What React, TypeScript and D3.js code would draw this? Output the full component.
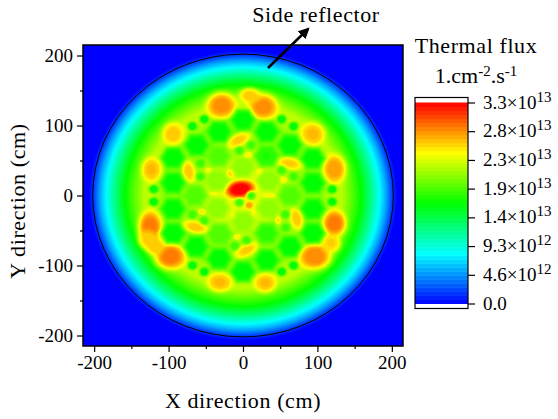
import React, { useEffect, useRef } from 'react';
import * as d3 from 'd3';

// everything in cm, flux in units of 1e13
const radialR = [0, 30, 58, 75, 108, 124, 134, 145, 160, 172, 183, 192, 200, 207, 215, 320];
const radialFlux = [2.45, 2.4, 2.25, 2.15, 2.15, 2.32, 2.25, 2.0, 1.64, 1.26, 0.88, 0.58, 0.25, 0.03, 0, 0];

const outerHex = [
  [0, 108], [32, 91], [63, 72], [94, 53], [94, 18], [94, -19], [94, -54], [63, -73], [32, -92],
  [0, -109], [-32, -90], [-63, -73], [-94, -54], [-94, -19], [-94, 18], [-94, 54], [-62, 72], [-32, 91],
];
const middleHex = [
  [-33, 56, 1.95], [32, 56, 1.78], [63, 0, 1.95], [32, -54, 1.82], [-31, -55, 1.92], [-64, 0, 1.95],
];
const innerHex = [[0, 40], [-34, 21], [-34, -18], [0, -37], [34, -18], [34, 21]];
const outerRods = [
  [-52, 109], [-68, 99], [52, 109], [68, 99], [-120, 9], [-120, -9], [120, 9], [120, -9],
  [-68, -100], [-52, -109], [52, -109], [68, -100],
];
const innerRods = [
  [-5, 64], [11, 72], [52, 36], [68, 27], [57, -27], [57, -46], [5, -64], [-11, -72],
  [-52, -36], [-68, -27], [-57, 46], [-57, 27], [-5, -10], [11, 0],
];
// x, y, rx, ry, angle, flux
const hotSpots = [
  [-29, 129, 20, 19, 0, 2.88], [27, 127, 20, 19, 0, 2.88], [9, 143, 15, 11, 0, 2.68],
  [-94, 88, 15, 17, 0, 2.68], [94, 88, 17, 17, 0, 2.72], [-123, 37, 14, 18, 0, 2.72],
  [123, 38, 16, 21, 0, 2.82], [-125, -45, 16, 23, 0, 2.95], [123, -40, 16, 19, 0, 2.95],
  [-98, -87, 21, 19, 0, 2.95], [97, -87, 22, 19, 0, 2.9], [-128, -63, 13, 14, 0, 2.65],
  [119, -68, 13, 14, 0, 2.65], [-118, -73, 13, 13, 0, 2.68], [-31, -124, 17, 14, 0, 2.72],
  [30, -125, 15, 14, 0, 2.72], [-4, 9, 19, 12, 10, 3.4],
  [-6, 79, 18, 9, 30, 2.66], [63, 46, 18, 9, -15, 2.66], [72, -33, 9, 17, 10, 2.68],
  [5, -78, 18, 9, 30, 2.66], [-64, -45, 18, 9, -15, 2.68], [-73, 34, 9, 17, 10, 2.68],
  [8.5, -14, 6, 6, 0, 2.8], [-17, 31, 5, 6, 0, 2.65], [23, 34, 5, 5, 0, 2.6], [36, 0, 9, 3, 0, 2.6],
  [-40, 3, 7, 3, 0, 2.55], [14, -23, 3, 7, 0, 2.55], [-13, -30, 3, 6, 0, 2.55], [7, 57, 6, 5, 0, 2.6],
  [54, 22, 5, 5, 0, 2.6], [47, -35, 4, 6, 0, 2.6], [-55, -23, 5, 4, 0, 2.6], [-8, -59, 5, 4, 0, 2.55],
  [-46, 36, 5, 4, 0, 2.55],
];

const majorTicks = [-200, -100, 0, 100, 200];
const minorTicks = [-150, -50, 50, 150];
const colorStops = [0, 0.825, 1.65, 2.475, 3.3];
const colorNames = ['#0000ff', '#00ffff', '#00ff00', '#ffff00', '#ff0000'];
const barTicks = [0, 0.471, 0.943, 1.414, 1.886, 2.357, 2.829, 3.3];
const barMantissa = ['0.0', '4.6', '9.3', '1.4', '1.9', '2.3', '2.8', '3.3'];
const barExponent = ['', '12', '12', '13', '13', '13', '13', '13'];

const FONT = '"Liberation Serif", serif';

export default function App() {
  const ref = useRef<SVGSVGElement>(null);

  useEffect(() => {
    const svg = d3.select(ref.current);
    svg.selectAll('*').remove();

    const x = d3.scaleLinear().domain([-215, 215]).range([83, 403]);
    const y = d3.scaleLinear().domain([-215, 215]).range([346, 45]);
    const color = d3.scaleLinear<string>().domain(colorStops).range(colorNames).clamp(true);
    const radial = d3.scaleLinear().domain(radialR).range(radialFlux);

    function flux(px: number, py: number) {
      let v = radial(Math.hypot(px, py));
      const blend = (w: number, target: number) => {
        v += w * (target - v);
      };
      hotSpots.forEach(([cx, cy, rx, ry, a, f]) => {
        const t = (a * Math.PI) / 180;
        const dx = px - cx;
        const dy = py - cy;
        const u = (dx * Math.cos(t) + dy * Math.sin(t)) / rx;
        const w = (-dx * Math.sin(t) + dy * Math.cos(t)) / ry;
        blend(Math.exp(-Math.pow(u * u + w * w, 2)), f);
      });
      const hex = (cx: number, cy: number, f: number, size: number) => {
        const dx = Math.abs(px - cx);
        const dy = Math.abs(py - cy);
        const d = Math.max(dy, dx * 0.866 + dy * 0.5) / size;
        blend(Math.exp(-Math.pow(d, 5)), f);
      };
      outerHex.forEach(([a, b]) => hex(a, b, 1.66, 15.5));
      middleHex.forEach(([a, b, f]) => hex(a, b, f, 15.5));
      innerHex.forEach(([a, b]) => hex(a, b, 2.14, 15));
      const rod = (cx: number, cy: number, f: number) => {
        const d = Math.hypot(px - cx, py - cy) / 6.5;
        blend(Math.exp(-Math.pow(d, 4)), f);
      };
      outerRods.forEach(([a, b]) => rod(a, b, 1.62));
      innerRods.forEach(([a, b]) => rod(a, b, 1.88));
      return v;
    }

    // sample the field on a 1.5 cm grid and contour it
    const step = 1.5;
    const n = Math.round(430 / step) + 1;
    const values = new Float64Array(n * n);
    for (let j = 0; j < n; j++) {
      for (let i = 0; i < n; i++) {
        values[j * n + i] = flux(-215 + i * step, -215 + j * step);
      }
    }
    const levels = d3.range(0, 51).map(i => (i * 3.3) / 50);
    const contours = d3.contours().size([n, n]).thresholds(levels.slice(1))(values as any);
    const path = d3.geoPath(
      d3.geoTransform({
        point(a, b) {
          this.stream.point(x(-215 + (a - 0.5) * step), y(-215 + (b - 0.5) * step));
        },
      }),
    );

    svg
      .append('clipPath')
      .attr('id', 'plot-clip')
      .append('rect')
      .attr('x', x(-215))
      .attr('y', y(215))
      .attr('width', x(215) - x(-215))
      .attr('height', y(-215) - y(215));

    const plot = svg.append('g').attr('clip-path', 'url(#plot-clip)');
    plot
      .append('rect')
      .attr('x', x(-215))
      .attr('y', y(215))
      .attr('width', x(215) - x(-215))
      .attr('height', y(-215) - y(215))
      .attr('fill', color(0));
    plot
      .selectAll('path')
      .data(contours)
      .enter()
      .append('path')
      .attr('d', d => path(d as any))
      .attr('fill', d => color(d.value));

    // reactor boundary
    plot
      .append('ellipse')
      .attr('cx', x(0))
      .attr('cy', y(0))
      .attr('rx', x(202) - x(0))
      .attr('ry', y(0) - y(202))
      .attr('fill', 'none')
      .attr('stroke', '#000')
      .attr('stroke-width', 1);

    svg
      .append('rect')
      .attr('x', x(-215))
      .attr('y', y(215))
      .attr('width', x(215) - x(-215))
      .attr('height', y(-215) - y(215))
      .attr('fill', 'none')
      .attr('stroke', '#000')
      .attr('stroke-width', 1.5);

    // axes, plain hyphen for negatives as in the original
    const tickText = (d: any) => String(d);
    const xAxis = svg.append('g').attr('transform', `translate(0, ${y(-215)})`);
    xAxis.call(d3.axisBottom(x).tickValues(majorTicks).tickSize(6).tickPadding(4).tickFormat(tickText));
    const xMinor = svg.append('g').attr('transform', `translate(0, ${y(-215)})`);
    xMinor.call(d3.axisBottom(x).tickValues(minorTicks).tickSize(3).tickFormat(() => ''));
    const yAxis = svg.append('g').attr('transform', `translate(${x(-215)}, 0)`);
    yAxis.call(d3.axisLeft(y).tickValues(majorTicks).tickSize(6).tickPadding(4).tickFormat(tickText));
    const yMinor = svg.append('g').attr('transform', `translate(${x(-215)}, 0)`);
    yMinor.call(d3.axisLeft(y).tickValues(minorTicks).tickSize(3).tickFormat(() => ''));
    [xAxis, xMinor, yAxis, yMinor].forEach(g => {
      g.select('.domain').remove();
      g.selectAll('line').attr('stroke-width', 1.2);
      g.selectAll('text').style('font-family', FONT).style('font-size', '19px').attr('fill', '#000');
    });

    const label = (text: string, px: number, py: number) =>
      svg
        .append('text')
        .attr('x', px)
        .attr('y', py)
        .attr('text-anchor', 'middle')
        .style('font-family', FONT)
        .style('font-size', '22px')
        .style('letter-spacing', '0.6px')
        .text(text);

    label('X direction (cm)', 243, 408);
    svg
      .append('text')
      .attr('transform', `translate(25, 201) rotate(-90)`)
      .attr('text-anchor', 'middle')
      .style('font-family', FONT)
      .style('font-size', '22px')
      .style('letter-spacing', '0.6px')
      .text('Y direction (cm)');
    label('Side reflector', 316, 22);
    label('Thermal flux', 476, 53);

    const unit = svg
      .append('text')
      .attr('x', 476)
      .attr('y', 83)
      .attr('text-anchor', 'middle')
      .style('font-family', FONT)
      .style('font-size', '22px');
    unit.append('tspan').text('1.cm');
    unit.append('tspan').attr('dy', -7).style('font-size', '15px').text('-2');
    unit.append('tspan').attr('dy', 7).text('.s');
    unit.append('tspan').attr('dy', -7).style('font-size', '15px').text('-1');

    // arrow
    svg
      .append('marker')
      .attr('id', 'arrow-head')
      .attr('viewBox', '0 0 10 10')
      .attr('refX', 8)
      .attr('refY', 5)
      .attr('markerWidth', 4.5)
      .attr('markerHeight', 4.5)
      .attr('orient', 'auto')
      .append('path')
      .attr('d', 'M0,0L10,5L0,10Z')
      .attr('fill', '#000');
    svg
      .append('line')
      .attr('x1', 268)
      .attr('y1', 68)
      .attr('x2', 308)
      .attr('y2', 29)
      .attr('stroke', '#000')
      .attr('stroke-width', 2.5)
      .attr('marker-end', 'url(#arrow-head)');

    // color bar
    const bar = d3.scaleLinear().domain([0, 3.3]).range([303.5, 102.5]);
    const barLeft = 415;
    const barRight = 468;
    svg
      .append('g')
      .selectAll('rect')
      .data(levels.slice(0, -1))
      .enter()
      .append('rect')
      .attr('x', barLeft)
      .attr('width', barRight - barLeft)
      .attr('y', d => bar(d + 3.3 / 50))
      .attr('height', d => bar(d) - bar(d + 3.3 / 50) + 0.5)
      .attr('fill', d => color(d + 3.3 / 100));
    svg
      .append('rect')
      .attr('x', barLeft)
      .attr('y', 97.5)
      .attr('width', barRight - barLeft)
      .attr('height', 211)
      .attr('fill', 'none')
      .attr('stroke', '#000')
      .attr('stroke-width', 1.2);
    const barAxis = svg.append('g').attr('transform', `translate(${barRight}, 0)`);
    barAxis.call(d3.axisRight(bar).tickValues(barTicks).tickSize(7).tickFormat(() => ''));
    barAxis.select('.domain').remove();
    barAxis.selectAll('line').attr('stroke-width', 1.2);

    barTicks.forEach((t, i) => {
      const text = svg
        .append('text')
        .attr('x', 483)
        .attr('y', bar(t) + 6)
        .style('font-family', FONT)
        .style('font-size', '19px');
      if (barExponent[i]) {
        text.append('tspan').text(`${barMantissa[i]}×10`);
        text.append('tspan').attr('dy', -7).style('font-size', '15px').text(barExponent[i]);
      } else {
        text.text(barMantissa[i]);
      }
    });
  }, []);

  return <svg ref={ref} width={558} height={419} style={{ position: 'absolute', left: 0, top: 0 }} />;
}
